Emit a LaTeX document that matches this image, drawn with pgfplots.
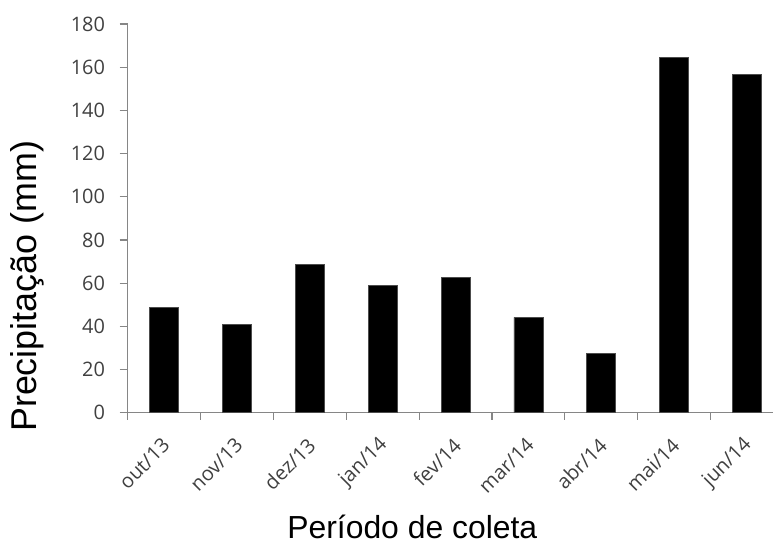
\documentclass[border=0pt]{standalone}
\usepackage{pgfplots}
\pgfplotsset{compat=1.18}
\usepackage{fontspec}
\setmainfont{Liberation Sans}
\newfontfamily\tickfont{Open Sans}
\definecolor{axgray}{HTML}{868686}
\definecolor{lblgray}{HTML}{404040}
\begin{document}
\begin{tikzpicture}
\useasboundingbox (-127.7bp,-130.3bp) rectangle (645.3bp,412.7bp);
\begin{axis}[
  at={(0,0)}, anchor=south west,
  scale only axis, width=645.3bp, height=388.7bp,
  xmin=-0.5, xmax=8.358, ymin=0, ymax=180,
  axis x line*=bottom, axis y line*=left,
  axis line style={draw=axgray, line width=1.2bp},
  ybar, bar width=29bp,
  ytick={0,20,...,180},
  xtick={0,...,8},
  xticklabels={out/13,nov/13,dez/13,jan/14,fev/14,mar/14,abr/14,mai/14,jun/14},
  minor xtick={-0.5,0.5,...,7.5},
  tick style={draw=axgray, line width=1.2bp},
  major x tick style={draw=none},
  tick align=outside,
  major tick length=8bp, minor tick length=7bp,
  /pgf/number format/assume math mode=true,
  yticklabel style={font=\tickfont\fontsize{20}{20}\selectfont, text=lblgray, inner sep=0pt, xshift=-14.5bp},
  xticklabel style={font=\tickfont\fontsize{20}{20}\selectfont, text=lblgray, inner sep=0pt, xshift=2bp, yshift=-21bp, rotate=45, anchor=east},
  xlabel={Período de coleta},
  xlabel style={at={(axis description cs:0.441,-0.324)}, anchor=base, font=\fontsize{32}{32}\selectfont},
  ylabel={Precipitação (mm)},
  ylabel style={at={(axis description cs:-0.141,0.325)}, anchor=base, font=\fontsize{36}{36}\selectfont},
]
\addplot[fill=black, draw=black!70, line width=0.6bp] coordinates {(0,48.8) (1,40.9) (2,68.7) (3,59.1) (4,62.5) (5,44.1) (6,27.5) (7,164.4) (8,156.5)};
\end{axis}
\end{tikzpicture}
\end{document}
